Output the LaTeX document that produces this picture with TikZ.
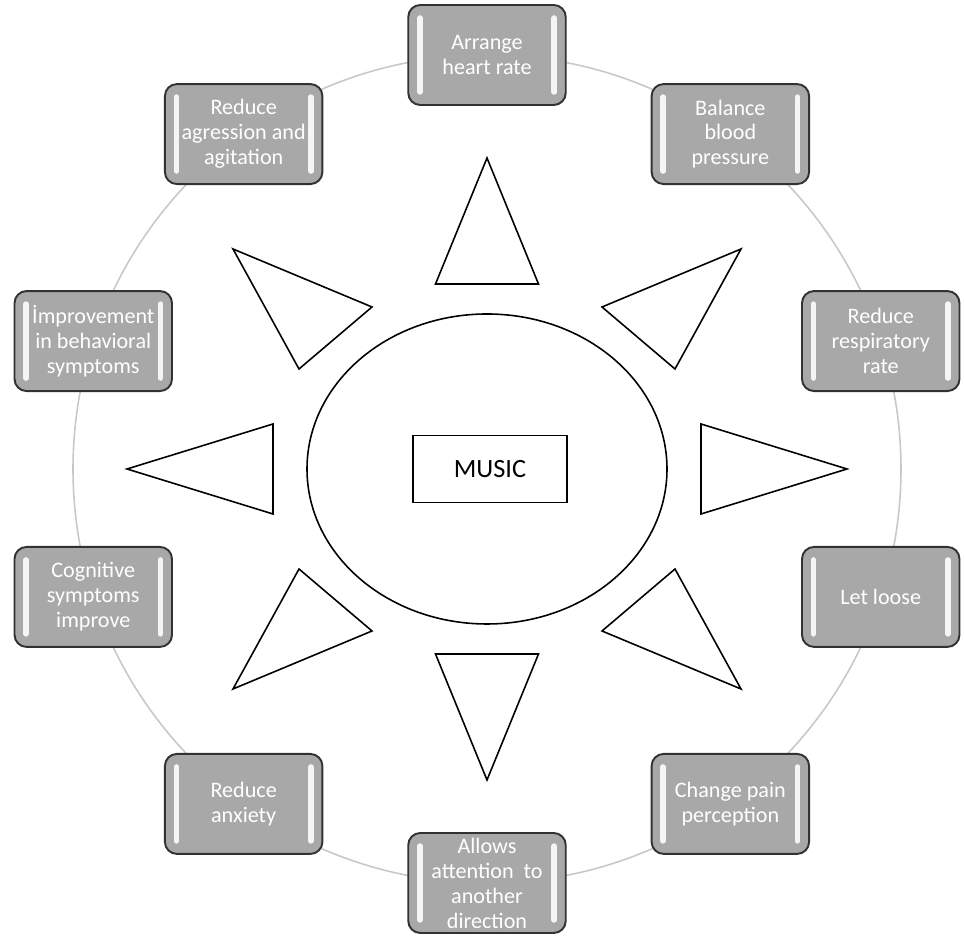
\documentclass[tikz,border=0pt]{standalone}
\usepackage{fontspec}
\setmainfont{Carlito}
\usepackage{tikz}
\usetikzlibrary{positioning, calc}
\definecolor{muGray}{RGB}{168, 168, 168}
\definecolor{muEdge}{RGB}{50, 50, 50}
\definecolor{muRing}{RGB}{200, 200, 200}
\tikzset{
    base/.style={
        align=center
    },
    effect/.style={
        base,
        rectangle,
        rounded corners=2.4mm,
        draw=muEdge,
        line width=1.1pt,
        fill=muGray,
        text=white,
        font=\fontsize{12.6}{14.2}\selectfont,
        minimum width=3.15cm,
        minimum height=2cm,
        inner sep=0pt,
        path picture={
            \draw[white!92!gray, line width=1.1mm, line cap=round]
              ([xshift=2.3mm, yshift=-2.6mm]path picture bounding box.north west) --
              ([xshift=2.3mm, yshift=2.6mm]path picture bounding box.south west);
            \draw[white!92!gray, line width=1.1mm, line cap=round]
              ([xshift=-2.3mm, yshift=-2.6mm]path picture bounding box.north east) --
              ([xshift=-2.3mm, yshift=2.6mm]path picture bounding box.south east);
        }
    },
    core/.style={
        base,
        rectangle,
        draw=black,
        line width=0.9pt,
        fill=white,
        font=\fontsize{15}{16}\selectfont,
        minimum width=3.08cm,
        minimum height=1.34cm
    },
    ring/.style={
        draw=muRing,
        line width=0.9pt
    },
    ray/.style={
        draw=black,
        line width=0.9pt,
        fill=white
    }
}

\begin{document}
\begin{tikzpicture}[x=0.02cm, y=0.02cm]
  \useasboundingbox (0,0) rectangle (964,939);
  \coordinate (c) at (487,470);

  % Ring
  \draw[ring] (c) circle [radius=414];

  % Hub
  \draw[ray] (c) ellipse [x radius=180, y radius=155];
  \node[core] (music) at ($(c)+(3,0)$) {MUSIC};

  % Rays
  \draw[ray] ($(c)+(0,311)$) -- ($(c)+(-51.5,185)$) -- ($(c)+(51.5,185)$) -- cycle;
  \draw[ray] ($(c)+(254,220)$) -- ($(c)+(115,162)$) -- ($(c)+(188,100)$) -- cycle;
  \draw[ray] ($(c)+(214,45)$) -- ($(c)+(360,0)$) -- ($(c)+(214,-45)$) -- cycle;
  \draw[ray] ($(c)+(254,-220)$) -- ($(c)+(115,-162)$) -- ($(c)+(188,-100)$) -- cycle;
  \draw[ray] ($(c)+(0,-311)$) -- ($(c)+(-51.5,-185)$) -- ($(c)+(51.5,-185)$) -- cycle;
  \draw[ray] ($(c)+(-254,-220)$) -- ($(c)+(-115,-162)$) -- ($(c)+(-188,-100)$) -- cycle;
  \draw[ray] ($(c)+(-214,45)$) -- ($(c)+(-360,0)$) -- ($(c)+(-214,-45)$) -- cycle;
  \draw[ray] ($(c)+(-254,220)$) -- ($(c)+(-115,162)$) -- ($(c)+(-188,100)$) -- cycle;

  % Effects
  \foreach \txt [count=\i] in {{Arrange\\heart rate}, {Balance\\blood\\pressure},
      {Reduce\\respiratory\\rate}, {Let loose}, {Change pain\\perception},
      {Allows\\attention~ to\\another\\direction}, {Reduce\\anxiety},
      {Cognitive\\symptoms\\improve}, {İmprovement\\in behavioral\\symptoms},
      {Reduce\\agression and\\agitation}}
    \node[effect] (eff\i) at ($(c)+({126-36*\i}:414)$) {\txt};
\end{tikzpicture}
\end{document}
